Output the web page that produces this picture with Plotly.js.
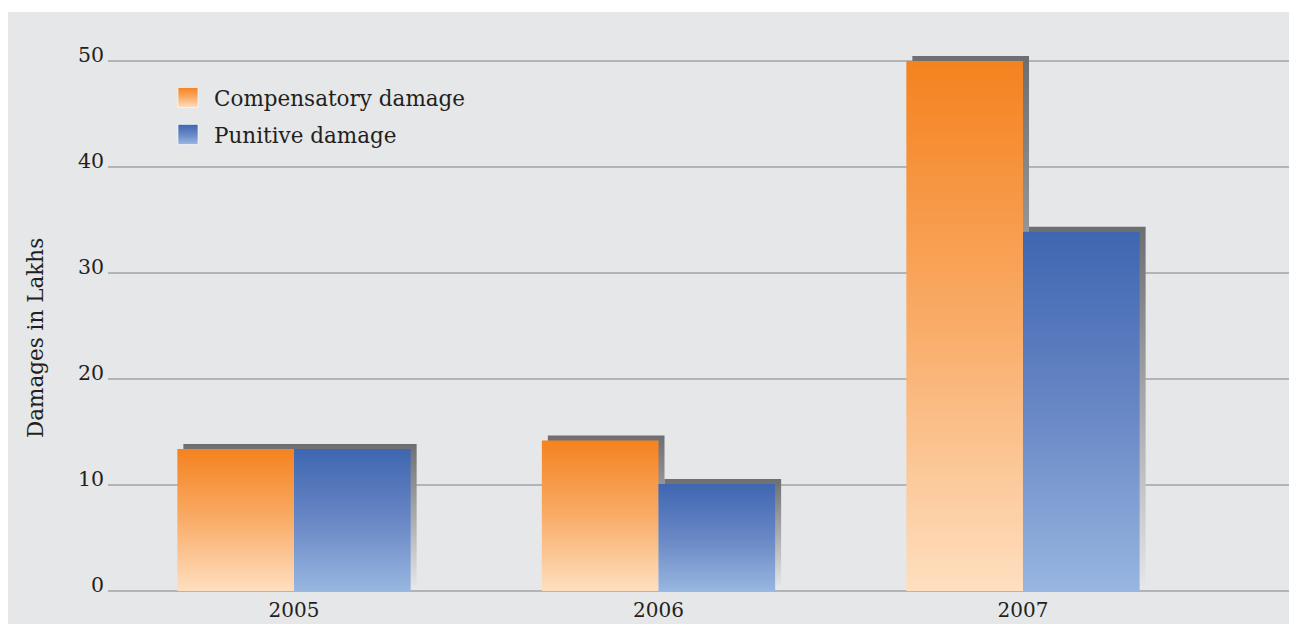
<!DOCTYPE html>
<html><head><meta charset="utf-8">
<script src="https://cdn.plot.ly/plotly-3.0.1.min.js"></script>
<style>
html,body{margin:0;padding:0;background:#fff;}
#wrap{position:relative;width:1289px;height:624px;overflow:hidden;background:#fff;}
#bg{position:absolute;left:8px;top:12px;right:0;bottom:0;background:#e6e7e9;}
#chart{position:absolute;left:0;top:0;width:1289px;height:624px;}
</style></head><body>
<svg width="0" height="0" style="position:absolute;left:0;top:0">
<defs>
<linearGradient id="gOrange" x1="0" y1="0" x2="0" y2="1">
<stop offset="0" stop-color="#f5821f"/><stop offset="0.5" stop-color="#f9ac68"/><stop offset="1" stop-color="#fedfc0"/>
</linearGradient>
<linearGradient id="gBlue" x1="0" y1="0" x2="0" y2="1">
<stop offset="0" stop-color="#3f66b1"/><stop offset="0.5" stop-color="#6887c5"/><stop offset="1" stop-color="#98b6e0"/>
</linearGradient>
<linearGradient id="gShadow" x1="0" y1="0" x2="0" y2="1">
<stop offset="0" stop-color="#6d6e71"/><stop offset="1" stop-color="#e4e5e7"/>
</linearGradient>
</defs></svg>
<div id="wrap"><div id="bg"></div><div id="chart"></div></div>
<script>
// ---- data ----
const years = ['2005', '2006', '2007'];
const compensatory = [13.4, 14.2, 50];
const punitive = [13.4, 10.1, 33.9];
const yTickVals = [0, 10, 20, 30, 40, 50];
const seriesNames = ['Compensatory damage', 'Punitive damage'];
const yTitle = 'Damages in Lakhs';

// ---- geometry (pixels -> data units) ----
const pxPerCat = 364.5, pxPerUnit = 10.6;
const shDx = 6 / pxPerCat, shDy = 5 / pxPerUnit;
const bw = 0.32;
const font = 'DejaVu Serif, serif';
const txt = '#231f20';

const shadowBase = years.map(() => shDy);
const traces = [
  {type: 'bar', x: years, y: compensatory, base: shadowBase, offset: -bw + shDx, width: bw,
   marker: {color: '#6d6e71', line: {width: 0}}, showlegend: false, hoverinfo: 'skip'},
  {type: 'bar', x: years, y: punitive, base: shadowBase, offset: shDx, width: bw,
   marker: {color: '#6d6e71', line: {width: 0}}, showlegend: false, hoverinfo: 'skip'},
  {type: 'bar', name: seriesNames[0], x: years, y: compensatory, offset: -bw, width: bw,
   marker: {color: '#f5821f', line: {width: 0}}, legendgroup: 'a'},
  {type: 'bar', name: seriesNames[1], x: years, y: punitive, offset: 0, width: bw,
   marker: {color: '#3f66b1', line: {width: 0}}, legendgroup: 'b'}
];

const layout = {
  width: 1289, height: 624,
  margin: {l: 108, r: 0, t: 12, b: 33, pad: 0},
  paper_bgcolor: 'rgba(0,0,0,0)', plot_bgcolor: 'rgba(0,0,0,0)',
  barmode: 'overlay',
  font: {family: font, color: txt, size: 20},
  xaxis: {type: 'category', range: [-0.5103, 2.7298], showgrid: false, zeroline: false,
    showline: false, ticks: '', ticklabelstandoff: 5,
    tickfont: {size: 20, family: font, color: txt}, fixedrange: true},
  yaxis: {range: [0, 579 / pxPerUnit], tickvals: yTickVals, ticktext: yTickVals.map(String),
    showgrid: true, gridcolor: '#b3b4b7', gridwidth: 1.4, zeroline: true, zerolinecolor: '#b3b4b7',
    zerolinewidth: 1.4, showline: false, ticks: '', ticklabelstandoff: 3,
    tickfont: {size: 20.5, family: font, color: txt},
    automargin: false, fixedrange: true},
  annotations: [{text: yTitle, textangle: -90, xref: 'paper', yref: 'paper',
    x: (35 - 108) / 1181, y: 1 - (338 - 12) / 579, xanchor: 'center', yanchor: 'middle',
    showarrow: false, font: {size: 21.5, family: font, color: txt}}],
  showlegend: true,
  legend: {x: (174 - 108) / 1181, y: 1 - (77 - 12) / 579, xanchor: 'left', yanchor: 'top',
    bgcolor: 'rgba(0,0,0,0)', borderwidth: 0, tracegroupgap: 6,
    font: {size: 21.5, family: font, color: txt}, traceorder: 'grouped'}
};

Plotly.newPlot('chart', traces, layout, {staticPlot: true, displayModeBar: false}).then(function (gd) {
  const fills = ['url(#gShadow)', 'url(#gShadow)', 'url(#gOrange)', 'url(#gBlue)'];
  gd.querySelectorAll('.barlayer .trace').forEach(function (t, i) {
    t.querySelectorAll('path').forEach(function (p) { p.style.fill = fills[i]; });
  });
  const lfills = ['url(#gOrange)', 'url(#gBlue)'];
  gd.querySelectorAll('.legend .traces').forEach(function (t, i) {
    t.querySelectorAll('.legendpoints path').forEach(function (p) {
      p.setAttribute('d', 'M4,10H-16V-10H4Z');
      p.style.fill = lfills[i];
      p.style.stroke = 'rgba(255,255,255,0.6)';
      p.style.strokeWidth = '1px';
    });
  });
  gd.querySelectorAll('.yaxislayer-above .ytick text').forEach(function (t) {
    const tr = t.getAttribute('transform') || '';
    t.setAttribute('transform', tr + ' translate(0,-6)');
  });
});
</script>
</body></html>
